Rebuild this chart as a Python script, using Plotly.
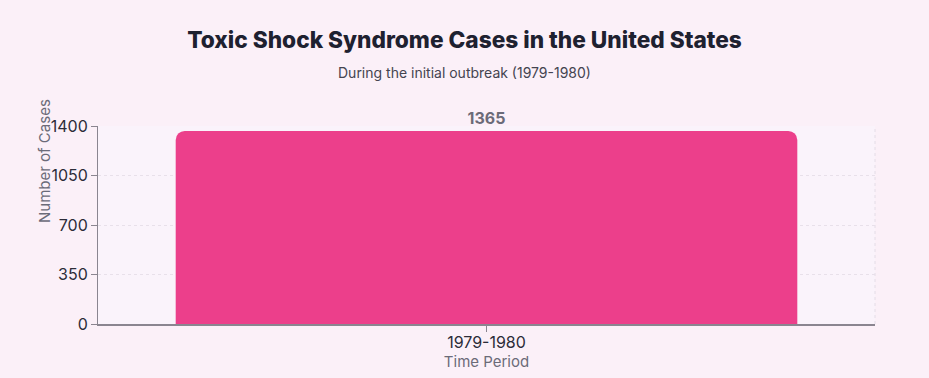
import plotly.graph_objects as go

categories = ["1979-1980"]
cases = [1365]
y_ticks = [0, 350, 700, 1050, 1400]

font_family = "Inter, 'Noto Sans', sans-serif"

fig = go.Figure()
fig.add_trace(go.Bar(
    x=categories,
    y=cases,
    marker=dict(color="#EC3F8B", cornerradius=9, line=dict(width=0)),
    text=[str(v) for v in cases],
    textposition="outside",
    textfont=dict(family=font_family, size=16, color="#6b6b78", weight="bold"),
    cliponaxis=False,
    hoverinfo="skip",
))

fig.update_layout(
    width=929, height=378,
    margin=dict(l=98, r=54, t=126, b=54),
    paper_bgcolor="#FBF0F8",
    plot_bgcolor="#FAF3FB",
    bargap=0.2,
    showlegend=False,
    title=dict(
        text="Toxic Shock Syndrome Cases in the United States",
        x=0.5, xanchor="center", y=1 - 40 / 378, yanchor="middle",
        font=dict(family=font_family, size=22.7, color="#1e2130", weight=800),
    ),
    xaxis=dict(
        showgrid=False,
        showline=True, linecolor="#8a8590", linewidth=1.5,
        ticks="outside", ticklen=6, tickcolor="#8a8590",
        ticklabelstandoff=-3,
        tickfont=dict(family=font_family, size=16, color="#2c2c38"),
        title=dict(text="Time Period", standoff=0,
                   font=dict(family=font_family, size=15, color="#6b6b78")),
    ),
    yaxis=dict(
        range=[0, 1400],
        tickvals=y_ticks,
        showgrid=True, gridcolor="#e8e0ea", griddash="3px,3px", gridwidth=1,
        showline=True, linecolor="#8a8590", linewidth=1,
        ticks="outside", ticklen=6, tickcolor="#8a8590",
        tickfont=dict(family=font_family, size=16, color="#2c2c38"),
        zeroline=False,
    ),
    annotations=[
        dict(text="During the initial outbreak (1979-1980)", xref="paper", yref="paper",
             x=(464.5 - 98) / 777, y=1 + (126 - 73) / 198, xanchor="center", yanchor="middle",
             showarrow=False, font=dict(family=font_family, size=14, color="#444450")),
        dict(text="Number of Cases", xref="paper", yref="paper",
             x=-(98 - 44) / 777, y=0.5, xanchor="center", yanchor="bottom",
             textangle=-90, showarrow=False,
             font=dict(family=font_family, size=15, color="#6b6b78")),
    ],
    shapes=[
        dict(type="line", xref="paper", yref="paper", x0=1, x1=1, y0=0, y1=1,
             line=dict(color="#e4dce6", width=1, dash="3px,3px"), layer="below"),
    ],
)

fig.write_html(
    "out.html",
    config={"displayModeBar": False},
    post_script="document.body.style.margin='0';document.body.style.padding='0';",
)
